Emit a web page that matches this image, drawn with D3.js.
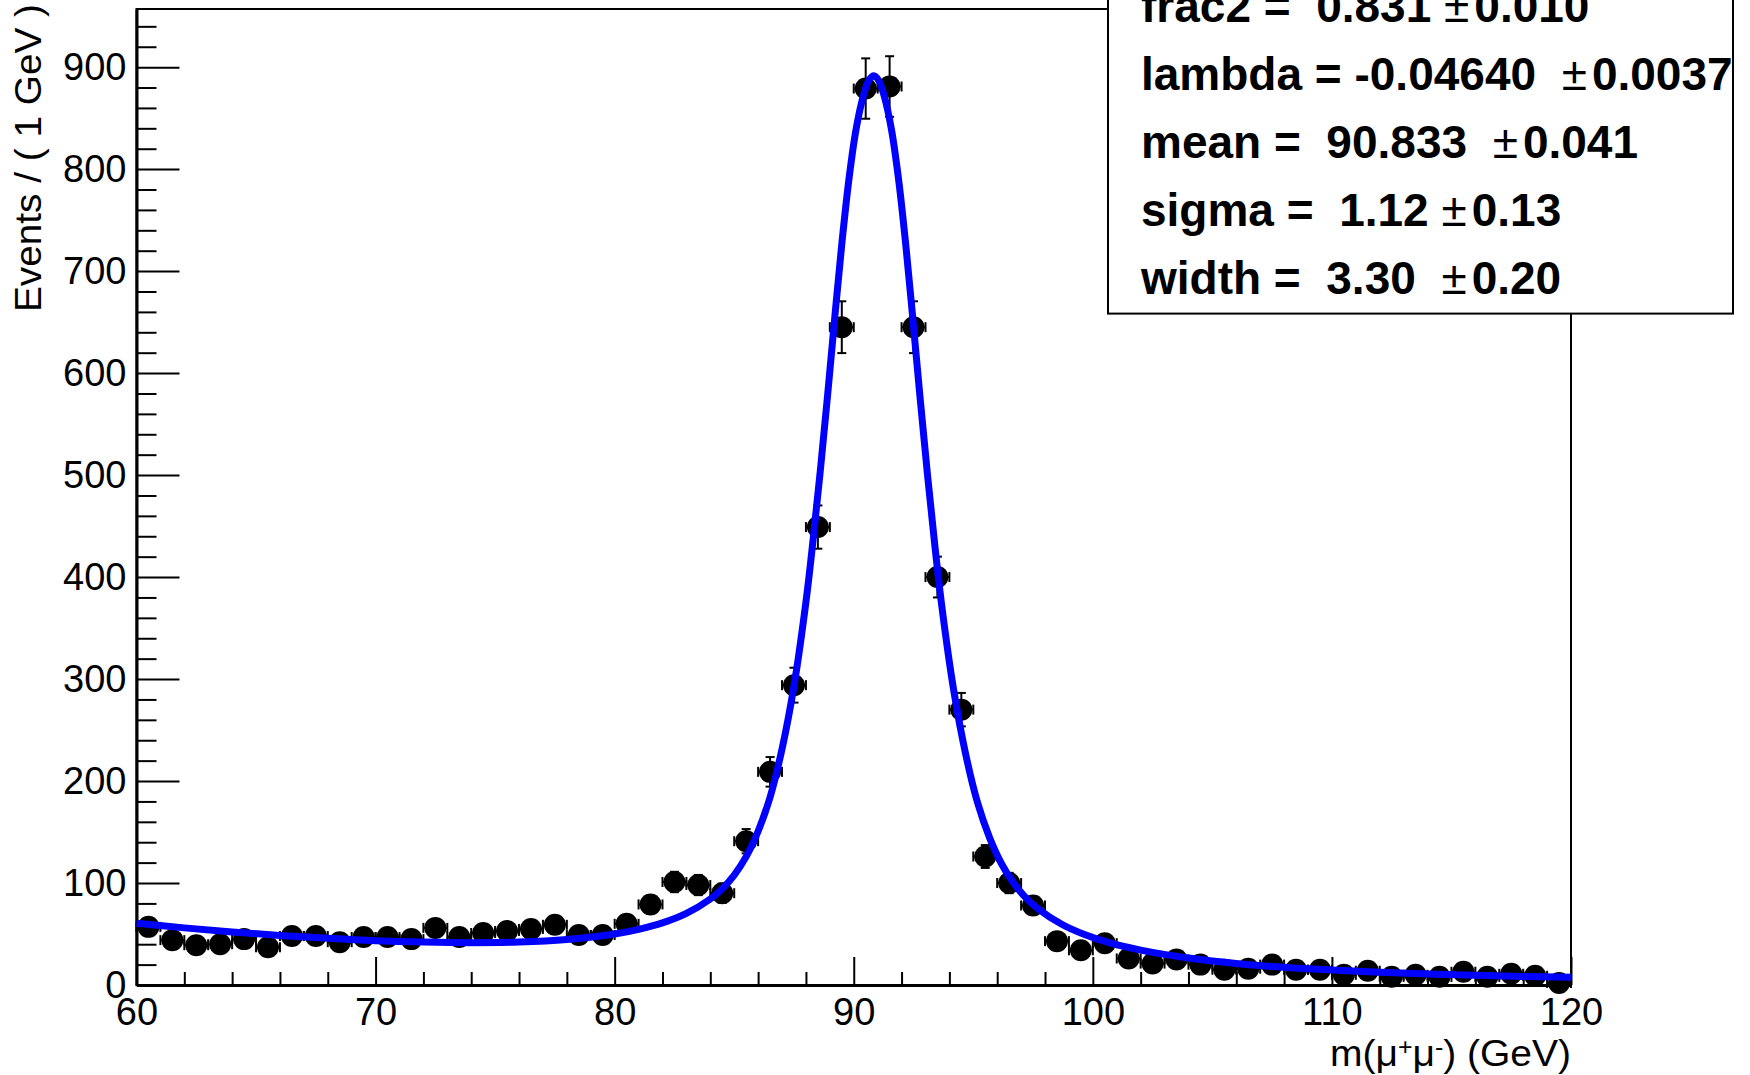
<!DOCTYPE html>
<html><head><meta charset="utf-8">
<script src="https://cdn.jsdelivr.net/npm/d3@7"></script>
<style>
html,body{margin:0;padding:0;background:#fff;}
svg{display:block;}
text{font-family:"Liberation Sans",Arial,Helvetica,sans-serif;}
</style></head><body>
<svg id="chart" width="1750" height="1075"></svg>
<script>
// ---- data ----
const binCenters = [60.5,61.5,62.5,63.5,64.5,65.5,66.5,67.5,68.5,69.5,
  70.5,71.5,72.5,73.5,74.5,75.5,76.5,77.5,78.5,79.5,
  80.5,81.5,82.5,83.5,84.5,85.5,86.5,87.5,88.5,89.5,
  90.5,91.5,92.5,93.5,94.5,95.5,96.5,97.5,98.5,99.5,
  100.5,101.5,102.5,103.5,104.5,105.5,106.5,107.5,108.5,109.5,
  110.5,111.5,112.5,113.5,114.5,115.5,116.5,117.5,118.5,119.5];
const counts = [57,44,39,40,45,37,48,48,42,47,
  47,45,56,47,51,53,55,59,49,49,
  60,79,101,98,90,141,209,294,449,645,
  879,881,645,400,270,126,100,78,43,34,
  41,26,21,25,20,15,16,20,15,15,
  10,14,8,10,8,13,8,11,9,2];
const countErrors = [7.5,6.6,6.2,6.3,6.7,6.1,6.9,6.9,6.5,6.9,
  6.9,6.7,7.5,6.9,7.1,7.3,7.4,7.7,7.0,7.0,
  7.7,8.9,10.0,9.9,9.5,11.9,14.5,17.1,21.2,25.4,
  29.6,29.7,25.4,20.0,16.4,11.2,10.0,8.8,6.6,5.8,
  6.4,5.1,4.6,5.0,4.5,3.9,4.0,4.5,3.9,3.9,
  3.2,3.7,2.8,3.2,2.8,3.6,2.8,3.3,3.0,1.4];
const binHalfWidth = 0.5;

// fit curve
const fitX = [60,62,64,66,68,70,72,74,76,78,80,81,82,83,84,84.5,85,85.5,86,86.5,87,87.5,88,88.3,88.6,88.9,89.2,89.5,89.8,90.1,90.4,90.64,90.84,91.04,91.28,91.58,91.88,92.18,92.48,92.78,93.08,93.38,93.68,94.18,94.68,95.18,95.68,96.18,96.68,97.18,97.68,98.68,99.68,100.68,102,104,106,108,110,112,114,116,118,120];
const fitY = [60.5,56.0,52.0,48.6,45.8,43.5,42.1,41.5,42.1,44.6,50.0,54.6,60.9,70.2,84.3,94.4,107.8,125.9,150.8,184.2,231.4,293.3,375.6,436.7,504,576.8,653,726.5,790.3,839.4,871.7,887.4,891.6,887.1,871.1,838.5,789,724.8,650.9,574.4,501.3,433.5,372,289.1,226.5,178.6,144.5,118.9,100.1,86,75.3,59.8,49.2,41.5,34.2,26.4,21.1,17.4,14.7,12.6,10.9,9.5,8.4,7.5];

const xTickValues = [60,70,80,90,100,110,120];
const yTickValues = [0,100,200,300,400,500,600,700,800,900];
const xDomain = [60,120];
const yDomain = [0,957];

const paramNames = ["frac2","lambda","mean","sigma","width"];
const paramValues = [" 0.831 ","-0.04640  "," 90.833  "," 1.12 "," 3.30  "];
const paramErrors = ["0.010","0.0037","0.041","0.13","0.20"];

const yTitle = "Events / ( 1 GeV )";

// ---- drawing ----
const svg = d3.select("#chart");
svg.append("rect").attr("width",1750).attr("height",1075).attr("fill","#fff");

const x = d3.scaleLinear().domain(xDomain).range([136.5,1571]);
const y = d3.scaleLinear().domain(yDomain).range([985,9]);

// frame
svg.append("rect").attr("x",x(60)).attr("y",y(957)).attr("width",x(120)-x(60)).attr("height",y(0)-y(957))
  .attr("fill","none").attr("stroke","#000").attr("stroke-width",2);

const fontFam = '"Liberation Sans", Arial, Helvetica, sans-serif';

// x axis major
const gx = svg.append("g").attr("transform",`translate(0,${y(0)})`)
  .call(d3.axisBottom(x).tickValues(xTickValues).tickSizeInner(-28).tickSizeOuter(0).tickPadding(13).tickFormat(d3.format("d")));
// x minor
const xMinor = d3.range(60,121,2).filter(v => v % 10 !== 0);
const gxm = svg.append("g").attr("transform",`translate(0,${y(0)})`)
  .call(d3.axisBottom(x).tickValues(xMinor).tickSizeInner(-13).tickSizeOuter(0).tickFormat(""));
gxm.select(".domain").remove();

// y axis major
const gy = svg.append("g").attr("transform",`translate(${x(60)},0)`)
  .call(d3.axisLeft(y).tickValues(yTickValues).tickSizeInner(-43).tickSizeOuter(0).tickPadding(10).tickFormat(d3.format("d")));
const yMinor = d3.range(0,957,20).filter(v => v % 100 !== 0);
const gym = svg.append("g").attr("transform",`translate(${x(60)},0)`)
  .call(d3.axisLeft(y).tickValues(yMinor).tickSizeInner(-20).tickSizeOuter(0).tickFormat(""));
gym.select(".domain").remove();

[gx,gy,gxm,gym].forEach(g => {
  g.attr("font-family",fontFam).attr("font-size",38);
  g.selectAll(".tick line").attr("stroke","#000").attr("stroke-width",2);
  g.selectAll(".tick text").attr("fill","#000");
  g.select(".domain").attr("stroke","#000").attr("stroke-width",3);
});

// axis titles
svg.append("text")
  .attr("x",x(120)).attr("y",1066)
  .attr("text-anchor","end").attr("font-size",36).attr("fill","#000")
  .attr("textLength",241).attr("lengthAdjust","spacingAndGlyphs")
  .call(t => {
    t.append("tspan").text("m(\u03bc");
    t.append("tspan").attr("font-size",23).attr("baseline-shift","48%").text("+");
    t.append("tspan").text("\u03bc");
    t.append("tspan").attr("font-size",23).attr("baseline-shift","48%").text("-");
    t.append("tspan").text(") (GeV)");
  });

svg.append("text")
  .attr("transform","translate(41,4) rotate(-90)")
  .attr("text-anchor","end").attr("font-size",36).attr("fill","#000")
  .attr("textLength",308).attr("lengthAdjust","spacingAndGlyphs")
  .text(yTitle);

// data points with error bars
const pts = svg.append("g");
const cap = 4.5;
binCenters.forEach((c,i) => {
  const v = counts[i], e = countErrors[i];
  const cx = x(c), cy = y(v);
  const g = pts.append("g").attr("stroke","#000").attr("stroke-width",2);
  const yt = y(v+e), yb = y(v-e);
  g.append("line").attr("x1",cx).attr("x2",cx).attr("y1",yt).attr("y2",yb);
  g.append("line").attr("x1",cx-cap).attr("x2",cx+cap).attr("y1",yt).attr("y2",yt);
  g.append("line").attr("x1",cx-cap).attr("x2",cx+cap).attr("y1",yb).attr("y2",yb);
  const xl = x(c-binHalfWidth), xr = x(c+binHalfWidth);
  g.append("line").attr("x1",xl).attr("x2",xr).attr("y1",cy).attr("y2",cy);
  g.append("line").attr("x1",xl).attr("x2",xl).attr("y1",cy-cap-0.5).attr("y2",cy+cap+0.5);
  g.append("line").attr("x1",xr).attr("x2",xr).attr("y1",cy-cap-0.5).attr("y2",cy+cap+0.5);
  pts.append("circle").attr("cx",cx).attr("cy",cy).attr("r",11).attr("fill","#000");
});

// fit curve
const fitPts = fitX.map((d,i) => [d, fitY[i]]);
svg.append("path").datum(fitPts)
  .attr("d", d3.line().x(d => x(d[0])).y(d => y(d[1])).curve(d3.curveCatmullRom.alpha(0.5)))
  .attr("fill","none").attr("stroke","#0000ff").attr("stroke-width",7).attr("stroke-linejoin","round");

// parameter box
svg.append("rect").attr("x",1108).attr("y",-60).attr("width",625).attr("height",373.6)
  .attr("fill","#fff").attr("stroke","#000").attr("stroke-width",2);
const pt = svg.append("g").attr("font-size",46).attr("fill","#000");
paramNames.forEach((n,i) => {
  const t = pt.append("text").attr("x",1141).attr("y",21.5 + i*68.2)
    .style("white-space","pre");
  t.append("tspan").attr("font-weight","bold").text(`${n} = ${paramValues[i]}`);
  t.append("tspan").attr("font-weight","normal").text("\u00b1");
  t.append("tspan").attr("font-weight","bold").attr("dx",5).text(paramErrors[i]);
});
</script>
</body></html>
